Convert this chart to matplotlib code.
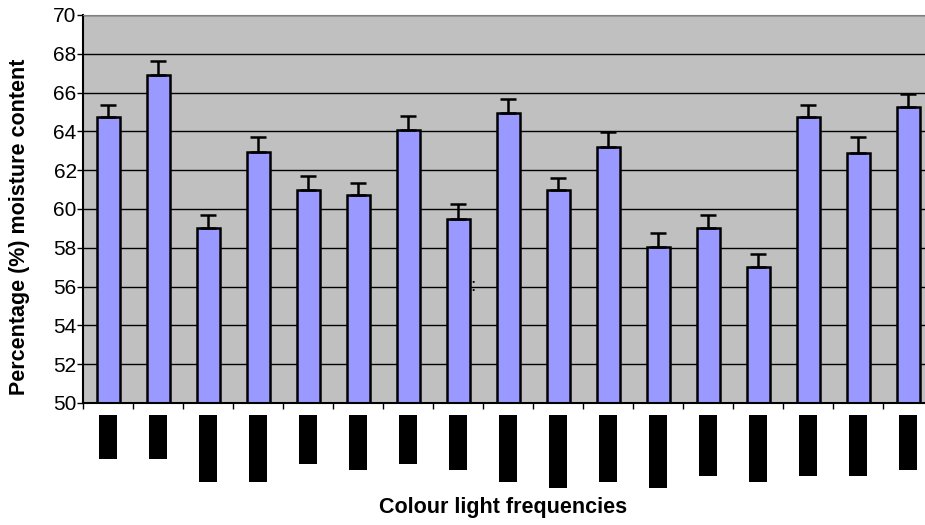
import numpy as np
import matplotlib.pyplot as plt

# moisture content per colour light treatment
values = [64.75, 66.9, 59.0, 62.95, 61.0, 60.7, 64.05, 59.5, 64.95, 61.0,
          63.2, 58.05, 59.0, 57.0, 64.75, 62.9, 65.25]
errors = [0.6, 0.75, 0.7, 0.77, 0.7, 0.62, 0.72, 0.75, 0.72, 0.6,
          0.77, 0.7, 0.7, 0.7, 0.6, 0.8, 0.7]
# category labels (unreadable in the original, rendered as black blocks)
labels = ['Yellow', 'Orange', 'Dark green', 'Light blue', 'Magenta',
          'Deep red', 'Crimson', 'Sky blue', 'Pale green', 'Dark violet',
          'Royal blue', 'Light green', 'Turquoise', 'Lime green',
          'Navy blue', 'Deep pink', 'Daylight']
yticks = np.arange(50, 71, 2)

plt.rcParams['font.family'] = ['Liberation Sans', 'DejaVu Sans']

fig = plt.figure(figsize=(9.25, 5.25), dpi=100)
ax = fig.add_axes([83/925, 1-403/525, 850/925, 388/525])

x = np.arange(len(values))
ax.set_facecolor('#C0C0C0')
ax.set_axisbelow(True)
ax.yaxis.grid(True, color='black', linewidth=1.0)

ax.bar(x, values, width=0.46, bottom=0, color='#9999FF', edgecolor='black',
       linewidth=1.8, zorder=2)
ax.errorbar(x, values, yerr=[np.zeros(len(errors)), errors], fmt='none',
            ecolor='black', elinewidth=1.8, capsize=6, capthick=1.8, zorder=3)

ax.set_xlim(-0.5, len(values) - 0.5)
ax.set_ylim(50, 70)
ax.set_yticks(yticks)
ax.tick_params(axis='y', labelsize=15, length=4, width=1, pad=0.5)

# boundary ticks as major, labels on minor ticks at bar centres
ax.set_xticks(np.arange(-0.5, len(values), 1))
ax.set_xticklabels([])
ax.tick_params(axis='x', which='major', length=4, width=1, direction='out')
ax.set_xticks(x, labels, minor=True)
ax.tick_params(axis='x', which='minor', length=0, pad=11.5)
for lbl in ax.get_xticklabels(minor=True):
    lbl.set_rotation(90)
    lbl.set_fontfamily('DejaVu Sans Mono')
    lbl.set_fontsize(7)
    lbl.set_color('black')
    lbl.set_verticalalignment('top')
    lbl.set_bbox(dict(facecolor='black', edgecolor='none', pad=3.1))

ax.spines['left'].set_linewidth(1.5)
ax.spines['bottom'].set_linewidth(1.5)
ax.spines['top'].set_color('#808080')
ax.spines['right'].set_color('#808080')

ax.text(7.3, 56, ':', fontsize=14, ha='center', va='center')

fig.text(20/925, 1-227/525, 'Percentage (%) moisture content', rotation=90,
         ha='center', va='center', fontsize=15.5, fontweight='bold')
fig.text(503/925, 1-507/525, 'Colour light frequencies',
         ha='center', va='center', fontsize=15.5, fontweight='bold')

fig.savefig('out.png', dpi=100)
